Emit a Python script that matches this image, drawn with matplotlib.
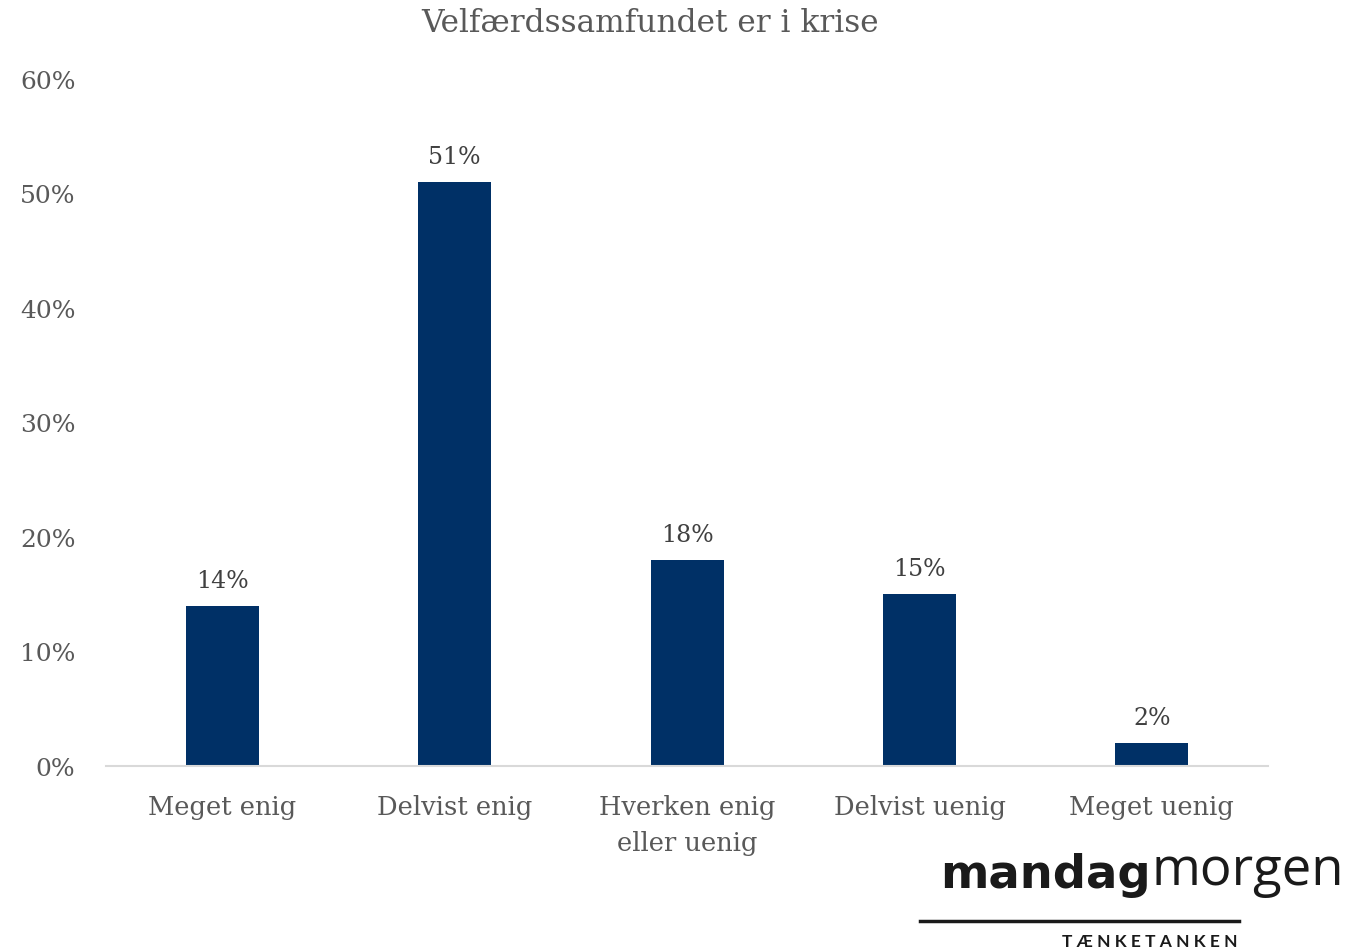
import matplotlib.pyplot as plt
import numpy as np

# data
categories = ["Meget enig", "Delvist enig", "Hverken enig\neller uenig", "Delvist uenig", "Meget uenig"]
values = [14, 51, 18, 15, 2]
yticks = [0, 10, 20, 30, 40, 50, 60]
ytick_labels = ["0%", "10%", "20%", "30%", "40%", "50%", "60%"]

bar_color = "#003066"
text_color = "#595959"
serif = ["DejaVu Serif"]

fig = plt.figure(figsize=(13.68, 9.53), dpi=100)
ax = fig.add_axes([0.0775, 0.1952, 0.8495, 0.7209])

x = np.arange(len(categories))
ax.bar(x, values, width=0.314, color=bar_color, zorder=2)

for xi, v in zip(x, values):
    ax.text(xi, v + 1.2, f"{v}%", ha="center", va="bottom",
            fontsize=17, color="#404040", family=serif)

ax.set_xlim(-0.5, len(categories) - 0.5)
ax.set_ylim(0, 60)
ax.set_yticks(yticks)
ax.set_yticklabels(ytick_labels, family=serif, fontsize=18, color=text_color)
ax.set_xticks(x)
ax.set_xticklabels(categories, family=serif, fontsize=18.5, color=text_color,
                   linespacing=1.55, va="top")
ax.tick_params(axis="both", length=0)
ax.tick_params(axis="x", pad=20)
ax.tick_params(axis="y", pad=22)

for side in ["top", "right", "left"]:
    ax.spines[side].set_visible(False)
ax.spines["bottom"].set_color("#d9d9d9")
ax.spines["bottom"].set_linewidth(1.5)

fig.text(0.475, 0.975, "Velfærdssamfundet er i krise", ha="center", va="center",
         fontsize=22.5, color=text_color, family=serif)

# logo
t1 = fig.text(0.687, 0.068, "mandag", ha="left", va="baseline", fontsize=33.5,
              family=["DejaVu Sans"], weight="bold", color="#1a1a1a")
ax.annotate("morgen", xy=(1, 0), xycoords=t1, xytext=(1, 0), textcoords="offset points",
            ha="left", va="bottom", fontsize=38, family=["Open Sans", "DejaVu Sans"],
            weight="normal", color="#1a1a1a", annotation_clip=False)
fig.add_artist(plt.Line2D([0.6725, 0.906], [0.0325, 0.0325], color="#1a1a1a", lw=2.5))
fig.text(0.8406, 0.0115, "T Æ N K E T A N K E N", ha="center", va="center",
         fontsize=12.5, family=["Lato", "DejaVu Sans"], weight="bold", color="#1a1a1a")

fig.savefig("out.png", dpi=100)
